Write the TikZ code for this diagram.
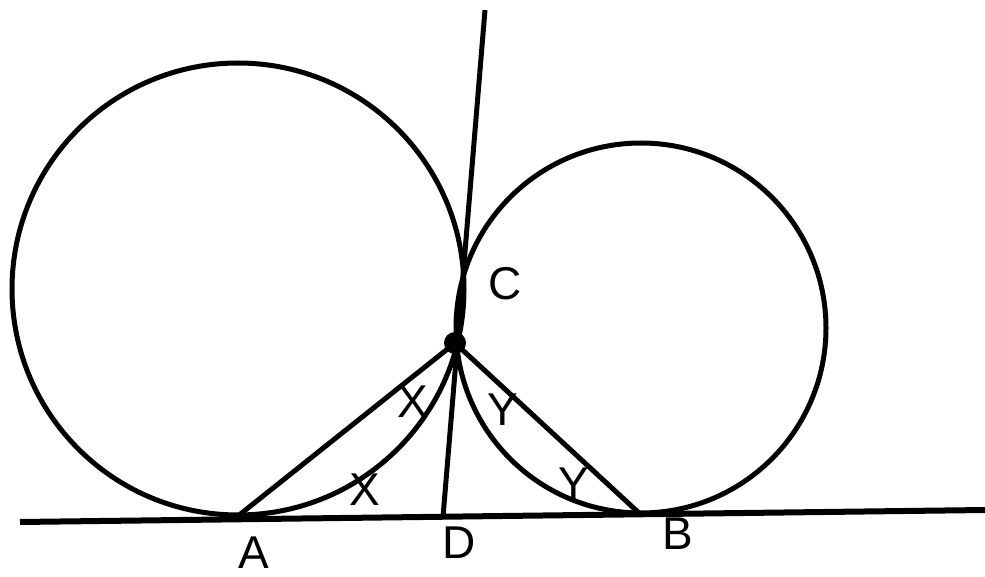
\documentclass[tikz,border=0pt]{standalone}
\usepackage{fontspec}
\setmainfont{Liberation Sans}
\usepackage{tikz}

\begin{document}
\begin{tikzpicture}[x=1pt, y=-1pt, line width=5pt,
    font=\fontsize{46}{48}\selectfont,
    lbl/.style={inner sep=0pt}]
        \useasboundingbox (0,0) rectangle (985,577);
        % points
        \coordinate (A) at (238,516);
        \coordinate (D) at (443,517);
        \coordinate (B) at (639,513);
        \coordinate (C) at (455,343);
        \coordinate (top) at (485,10);
        \coordinate (gl) at (20,522);
        \coordinate (gr) at (985,510);
        % circles
        \draw (238,289) circle[radius=226pt];
        \draw (641,328) circle[radius=185pt];
        % lines
        \draw[line width=6pt] (gl) -- (gr);
        \draw (top) -- (D);
        \draw (C) -- (A);
        \draw (C) -- (B);
        \fill (C) circle[radius=11pt];
        % labels
        \node[lbl] (labA) at (254,553) {A};
        \node[lbl] (labD) at (459,543) {D};
        \node[lbl] (labB) at (678,534) {B};
        \node[lbl] (labC) at (505,284) {C};
        \node[lbl] (x1) at (413,402) {X};
        \node[lbl] (x2) at (365,490) {X};
        \node[lbl] (y1) at (503,410) {Y};
        \node[lbl] (y2) at (574,484) {Y};
      \end{tikzpicture}
\end{document}
